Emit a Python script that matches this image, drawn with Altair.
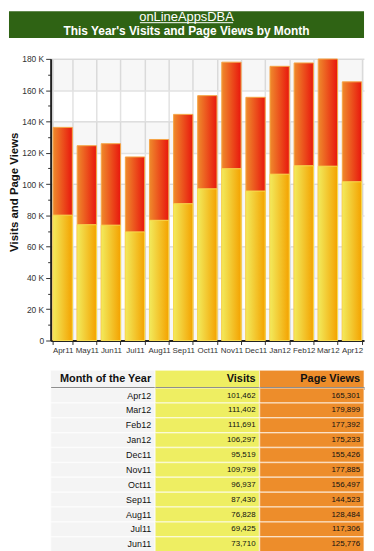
import altair as alt
import pandas as pd

# ---------------- data ----------------
months = ["Apr11", "May11", "Jun11", "Jul11", "Aug11", "Sep11", "Oct11",
          "Nov11", "Dec11", "Jan12", "Feb12", "Mar12", "Apr12"]
visits = [80100, 74000, 73710, 69425, 76828, 87430, 96937,
          109799, 95519, 106297, 111691, 111402, 101462]
page_views = [136200, 124500, 125776, 117306, 128484, 144523, 156497,
              177885, 155426, 175233, 177392, 179899, 165301]

# rows of the table that are visible (newest first)
table_months = ["Apr12", "Mar12", "Feb12", "Jan12", "Dec11", "Nov11",
                "Oct11", "Sep11", "Aug11", "Jul11", "Jun11"]

header_title = "onLineAppsDBA"
header_subtitle = "This Year's Visits and Page Views by Month"
y_title = "Visits and Page Views"
table_columns = ["Month of the Year", "Visits", "Page Views"]

FONT = "Liberation Sans"
W = 358          # full content width (page 374 minus 2x8 margin)
LEFT = 42        # where the plot area / table start inside each view
BAND_H = 27      # green title band height
GAP1 = 21        # title band -> plot area
GAP2 = 30        # plot area -> table

df = pd.DataFrame({"month": months, "visits": visits, "page_views": page_views})

# ---------------- header band ----------------
hdr_df = pd.DataFrame({"t1": [header_title], "t2": [header_subtitle]})
hdr_base = alt.Chart(hdr_df)
hdr_band = hdr_base.mark_rect(fill="#2f6314").encode(
    x=alt.value(0), x2=alt.value("width"), y=alt.value(0), y2=alt.value(BAND_H))
hdr_line1 = hdr_base.mark_text(font=FONT, fontSize=13, color="white",
                               align="center", baseline="top").encode(
    text="t1:N", x=alt.value(W / 2), y=alt.value(0))
hdr_underline = hdr_base.mark_rule(color="white", strokeWidth=1).encode(
    x=alt.value(W / 2 - 47), x2=alt.value(W / 2 + 47), y=alt.value(11.5))
hdr_line2 = hdr_base.mark_text(font=FONT, fontSize=12, fontWeight="bold", color="white",
                               align="center", baseline="alphabetic").encode(
    text="t2:N", x=alt.value(W / 2), y=alt.value(23.5))
header = alt.layer(hdr_band, hdr_line1, hdr_underline, hdr_line2).properties(
    width=W, height=BAND_H + GAP1)

# ---------------- bar chart ----------------
PLOT_H = 284
tick_values = list(range(0, 180001, 10000))
band_lows = list(range(0, 180000, 40000))

x_enc = alt.X("month:N", sort=months,
              scale=alt.Scale(range=[LEFT, W], paddingInner=0.2, paddingOuter=0.1),
              axis=alt.Axis(title=None, labelAngle=0, tickBand="extent",
                            grid=True, gridColor="#e2e2e2", gridWidth=1.5,
                            labelFont=FONT, labelFontSize=8, labelColor="#333",
                            labelPadding=2, tickSize=4, tickColor="#333",
                            domainColor="#222", domainWidth=2))
y_scale = alt.Scale(domain=[0, 180000], nice=False)
y_axis = alt.Axis(
    title=y_title, values=tick_values, offset=-LEFT, titleY=134,
    labelExpr="datum.value % 20000 ? '' : (datum.value == 0 ? '0' : (datum.value / 1000) + ' K')",
    labelFont=FONT, labelFontSize=8.5, labelColor="#333", labelPadding=2,
    labelOverlap=False, labelFlush=False,
    gridColor="#e2e2e2", gridWidth=1.5,
    gridOpacity={"condition": {"test": "datum.value % 20000 != 0", "value": 0}, "value": 1},
    tickSize={"condition": {"test": "datum.value % 20000 != 0", "value": 3}, "value": 5},
    tickColor="#333", domainColor="#222", domainWidth=2,
    titleFont=FONT, titleFontSize=11.5, titleFontWeight="bold", titleColor="#111",
    titlePadding=2)

bands = alt.Chart(pd.DataFrame({"lo": band_lows})).transform_calculate(
    hi="datum.lo + 20000").mark_rect(fill="#000000", fillOpacity=0.03).encode(
    x=alt.value(LEFT), x2=alt.value("width"),
    y=alt.Y("lo:Q", scale=y_scale, axis=y_axis), y2="hi:Q")

pv_grad = alt.LinearGradient(
    gradient="linear", x1=0, x2=1, y1=0, y2=0,
    stops=[alt.GradientStop(offset=0, color="#ef8a2c"),
           alt.GradientStop(offset=1, color="#e8170d")])
v_grad = alt.LinearGradient(
    gradient="linear", x1=0, x2=1, y1=0, y2=0,
    stops=[alt.GradientStop(offset=0, color="#f2ea5c"),
           alt.GradientStop(offset=1, color="#f4a200")])

base = alt.Chart(df)
pv_bars = base.mark_bar(fill=pv_grad, stroke="#f5a445", strokeWidth=1).encode(
    x=x_enc, y=alt.Y("page_views:Q", scale=y_scale, axis=y_axis))
v_bars = base.mark_bar(fill=v_grad, stroke="#f8dc50", strokeWidth=1).encode(
    x=x_enc, y=alt.Y("visits:Q", scale=y_scale, axis=y_axis))

bars = alt.layer(bands, pv_bars, v_bars).properties(width=W, height=PLOT_H)

# ---------------- table ----------------
col_scale = alt.Scale(range=[LEFT, W], paddingInner=0, paddingOuter=0)
col_colors = alt.Scale(domain=table_columns, range=["#f4f4f4", "#eeee62", "#ed8d2b"])

HEAD_H = 18
head_df = pd.DataFrame({"col": table_columns})
head_base = alt.Chart(head_df)
head_rect = head_base.mark_rect(stroke="white", strokeWidth=1, strokeOpacity=0.6).encode(
    x=alt.X("col:N", sort=table_columns, scale=col_scale,
            axis=alt.Axis(orient="bottom", title=None, labels=False, ticks=False,
                          domainColor="#4a4a4a", domainWidth=3)),
    y=alt.value(GAP2), y2=alt.value("height"),
    fill=alt.Color("col:N", scale=col_colors, legend=None))
head_text = head_base.mark_text(align="right", baseline="middle", dx=-4, font=FONT,
                                fontSize=11, fontWeight="bold", color="#111").encode(
    x=alt.X("col:N", sort=table_columns, scale=col_scale, bandPosition=1),
    y=alt.value(GAP2 + 8.5), text="col:N")
table_head = alt.layer(head_rect, head_text).properties(width=W, height=GAP2 + HEAD_H)

cells = []
for m in table_months:
    i = months.index(m)
    cells.append({"month": m, "col": table_columns[0], "label": m})
    cells.append({"month": m, "col": table_columns[1], "label": f"{visits[i]:,}"})
    cells.append({"month": m, "col": table_columns[2], "label": f"{page_views[i]:,}"})
cells_df = pd.DataFrame(cells)

body_base = alt.Chart(cells_df)
row_y = alt.Y("month:N", sort=table_months,
              scale=alt.Scale(paddingInner=0, paddingOuter=0), axis=None)
body_rect = body_base.mark_rect(stroke="white", strokeWidth=1.5, strokeOpacity=0.5).encode(
    x=alt.X("col:N", sort=table_columns, scale=col_scale, axis=None),
    y=row_y,
    fill=alt.Color("col:N", scale=col_colors, legend=None))
body_text = body_base.mark_text(align="right", baseline="middle", dx=-4, font=FONT,
                                color="#111").encode(
    x=alt.X("col:N", sort=table_columns, scale=col_scale, bandPosition=1, axis=None),
    y=row_y, text="label:N",
    size=alt.condition(alt.datum.col == table_columns[0], alt.value(9), alt.value(8)))
table_body = alt.layer(body_rect, body_text).properties(width=W, height=15 * len(table_months))

chart = alt.vconcat(header, bars, table_head, table_body, spacing=0, bounds="flush").properties(
    padding=0, background="white"
).configure_view(stroke="transparent")

chart.save("out.html", embed_options={"renderer": "svg", "actions": False})
